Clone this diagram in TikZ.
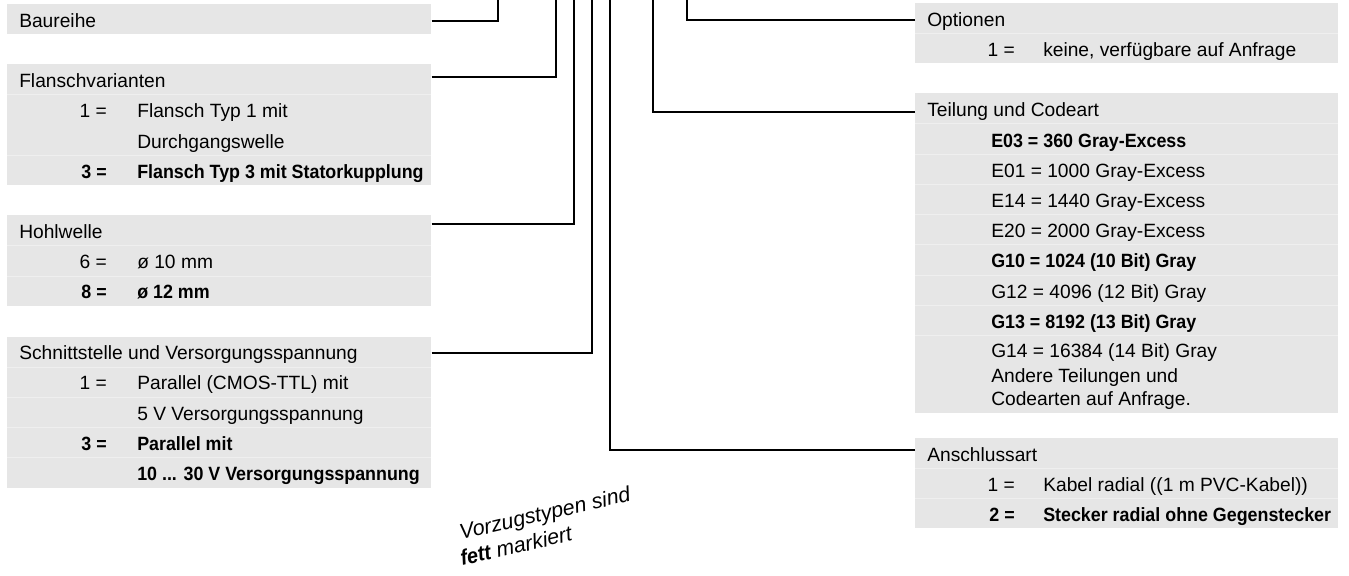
\documentclass[tikz,border=0pt]{standalone}
\usepackage{fontspec}
\setmainfont{Liberation Sans}[BoldFeatures={FakeStretch=0.93},BoldItalicFeatures={FakeStretch=0.93}]
\definecolor{boxgray}{HTML}{E6E6E6}
\definecolor{sepgray}{HTML}{EFEFEF}
\begin{document}
\begin{tikzpicture}[x=0.75pt,y=-0.75pt,
  box/.style={rectangle,fill=boxgray,draw=none,inner sep=0pt,anchor=north west},
  lbl/.style={anchor=base west,inner sep=0pt,font=\fontsize{14.4}{17}\selectfont},
  num/.style={anchor=base east,inner sep=0pt,font=\fontsize{14.4}{17}\selectfont},
  blbl/.style={lbl,font=\fontsize{14.4}{17}\selectfont\bfseries},
  bnum/.style={num,font=\fontsize{14.4}{17}\selectfont\bfseries},
  notetxt/.style={anchor=base west,inner sep=0pt,rotate=13,font=\fontsize{16}{18}\selectfont\itshape},
  conn/.style={line width=1.5pt,black},
  sepline/.style={line width=0.75pt,sepgray}]
\useasboundingbox (0,0) rectangle (1349,575);

% ---------- left boxes ----------
\node[box,minimum width=318pt,minimum height=22.5pt] (bau) at (7,4) {};
\node[box,minimum width=318pt,minimum height=90.75pt] (flansch) at (7,64) {};
\node[box,minimum width=318pt,minimum height=68.25pt] (hohl) at (7,215) {};
\node[box,minimum width=318pt,minimum height=113.25pt] (schnitt) at (7,337) {};

% ---------- right boxes ----------
\node[box,minimum width=317.25pt,minimum height=45pt] (opt) at (915,3) {};
\node[box,minimum width=317.25pt,minimum height=240pt] (teil) at (915,93) {};
\node[box,minimum width=317.25pt,minimum height=67.5pt] (ansch) at (915,438) {};

% ---------- row separators ----------
\foreach \y in {94,155} \draw[sepline] (7,\y) -- (431,\y);
\foreach \y in {245,276} \draw[sepline] (7,\y) -- (431,\y);
\foreach \y in {367,397,427,457} \draw[sepline] (7,\y) -- (431,\y);
\foreach \y in {33} \draw[sepline] (915,\y) -- (1338,\y);
\foreach \y in {123,154,184,214,244,275,305,335} \draw[sepline] (915,\y) -- (1338,\y);
\foreach \y in {468,498} \draw[sepline] (915,\y) -- (1338,\y);

% ---------- texts left ----------
\node[lbl] (bauH) at (19,27) {Baureihe};

\node[lbl] (flH) at (19,87) {Flanschvarianten};
\node[num] (fl1n) at (107,117) {1 =};
\node[lbl] (fl1a) at (137,117) {Flansch Typ 1 mit};
\node[lbl] (fl1b) at (137,148) {Durchgangswelle};
\node[bnum] (fl3n) at (107,178) {3 =};
\node[blbl] (fl3a) at (137,178) {Flansch Typ 3 mit Statorkupplung};

\node[lbl] (hoH) at (19,238) {Hohlwelle};
\node[num] (ho6n) at (107,268) {6 =};
\node[lbl] (ho6a) at (137,268) {ø 10 mm};
\node[bnum] (ho8n) at (107,298) {8 =};
\node[blbl] (ho8a) at (137,298) {ø 12 mm};

\node[lbl] (scH) at (19,359) {Schnittstelle und Versorgungsspannung};
\node[num] (sc1n) at (107,389) {1 =};
\node[lbl] (sc1a) at (137,389) {Parallel (CMOS-TTL) mit};
\node[lbl] (sc1b) at (137,420) {5 V Versorgungsspannung};
\node[bnum] (sc3n) at (107,450) {3 =};
\node[blbl] (sc3a) at (137,450) {Parallel mit};
\node[blbl] (sc3b) at (137,480) {10 ... 30 V Versorgungsspannung};

% ---------- texts right ----------
\node[lbl] (opH) at (927,26) {Optionen};
\node[num] (op1n) at (1015,56) {1 =};
\node[lbl] (op1a) at (1043,56) {keine, verfügbare auf Anfrage};

\node[lbl] (teH) at (927,116) {Teilung und Codeart};
\node[blbl] (te1) at (991,147) {E03 = 360 Gray-Excess};
\node[lbl] (te2) at (991,177) {E01 = 1000 Gray-Excess};
\node[lbl] (te3) at (991,207) {E14 = 1440 Gray-Excess};
\node[lbl] (te4) at (991,237) {E20 = 2000 Gray-Excess};
\node[blbl] (te5) at (991,267) {G10 = 1024 (10 Bit) Gray};
\node[lbl] (te6) at (991,298) {G12 = 4096 (12 Bit) Gray};
\node[blbl] (te7) at (991,328) {G13 = 8192 (13 Bit) Gray};
\node[lbl] (te8) at (991,357) {G14 = 16384 (14 Bit) Gray};
\node[lbl] (te9) at (991,382) {Andere Teilungen und};
\node[lbl] (te10) at (991,405) {Codearten auf Anfrage.};

\node[lbl] (anH) at (927,461) {Anschlussart};
\node[num] (an1n) at (1015,491) {1 =};
\node[lbl] (an1a) at (1043,491) {Kabel radial ((1 m PVC-Kabel))};
\node[bnum] (an2n) at (1015,521) {2 =};
\node[blbl] (an2a) at (1043,521) {Stecker radial ohne Gegenstecker};

% ---------- note ----------
\node[notetxt] (note1) at (461,540) {Vorzugstypen sind};
\node[notetxt] (note2) at (462,566) {{\bfseries fett} markiert};

% ---------- connectors ----------
\coordinate (t1) at (498,-3);
\coordinate (t2) at (556,-3);
\coordinate (t3) at (574,-3);
\coordinate (t4) at (592,-3);
\coordinate (t5) at (610,-3);
\coordinate (t6) at (653,-3);
\coordinate (t7) at (687,-3);

\draw[conn] ([yshift=-1.5pt]bau.east) -| (t1);
\draw[conn] ([yshift=-9.75pt]flansch.north east) -| (t2);
\draw[conn] ([yshift=-6.75pt]hohl.north east) -| (t3);
\draw[conn] ([yshift=-12pt]schnitt.north east) -| (t4);
\draw[conn] ([yshift=-9pt]ansch.north west) -| (t5);
\draw[conn] ([yshift=-14.25pt]teil.north west) -| (t6);
\draw[conn] ([yshift=-12.75pt]opt.north west) -| (t7);
\end{tikzpicture}
\end{document}
